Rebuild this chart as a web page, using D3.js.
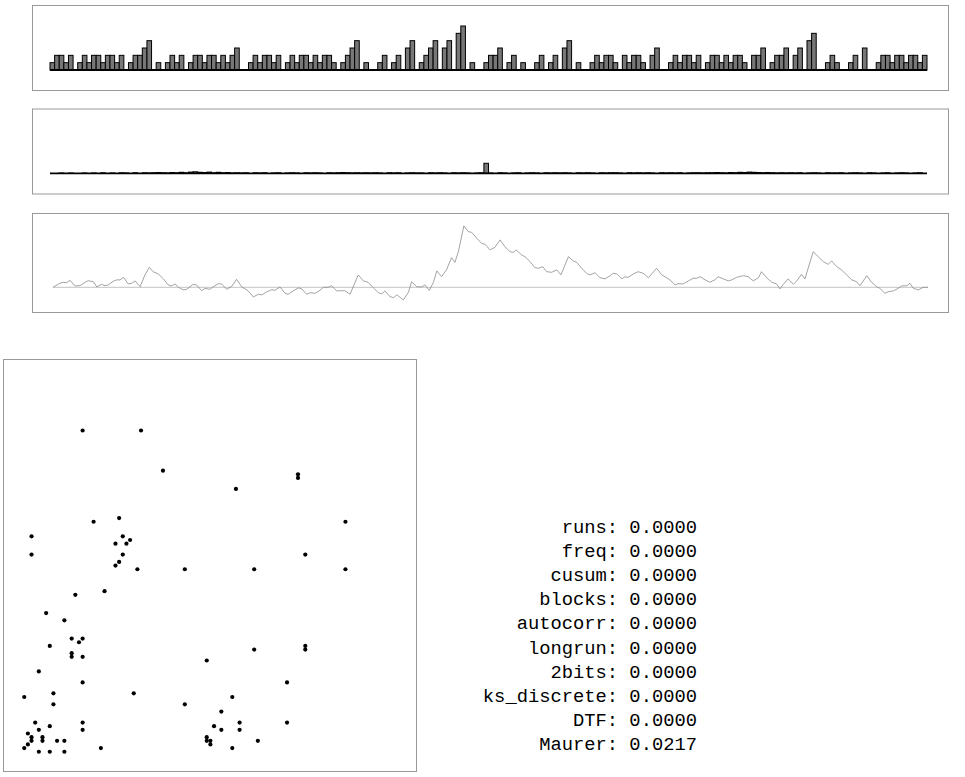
<!DOCTYPE html>
<html>
<head>
<meta charset="utf-8">
<script src="https://cdn.jsdelivr.net/npm/d3@7"></script>
<style>
  body { margin: 0; background: #fff; }
  svg { display: block; }
</style>
</head>
<body>
<svg width="965" height="777"></svg>
<script>
// run lengths per bit (top strip)
var runLevels = [
  1,2,2,1,2,0,1,2,1,2, 2,1,2,2,1,2,0,1,2,2,
  3,4,0,1,0,1,2,1,2,0, 1,2,2,1,2,2,1,2,1,2,
  3,0,0,1,2,1,2,2,1,2, 0,1,2,1,2,2,1,2,1,2,
  2,1,0,1,2,3,4,0,1,0, 0,1,2,0,1,2,0,3,4,0,
  1,2,3,4,0,3,4,0,5,6, 0,1,0,0,1,2,2,3,0,1,
  2,0,1,0,0,1,2,0,1,2, 0,3,4,0,1,0,0,1,2,1,
  2,2,1,0,2,1,2,2,1,0, 2,3,0,0,1,2,1,2,2,1,
  2,0,1,2,2,1,2,1,2,2, 1,0,2,2,3,0,1,2,2,3,
  0,2,3,0,4,5,0,0,1,2, 1,0,0,1,2,0,3,0,0,1,
  2,2,1,2,2,1,2,2,1,2
];

// spectrum strip (middle)
var spectrum = [
  0,0,0.03,0,0.03,0,0,0.03,0,0.03, 0,0.05,0,0.03,0,0.05,0.03,0,0.05,0,
  0.05,0.03,0.05,0.08,0.05,0.03,0.08,0.05,0.1,0.05, 0.12,0.15,0.1,0.08,0.12,0.05,0.1,0.05,0.08,0.03,
  0.05,0.03,0.05,0,0.05,0.03,0.05,0,0.03,0.05, 0,0.03,0.05,0.03,0,0.05,0.03,0.05,0.03,0,
  0.05,0.03,0.05,0.08,0.05,0.03,0.05,0.03,0.05,0.03, 0.05,0.03,0,0.05,0.03,0.05,0,0.03,0.05,0.03,
  0.03,0,0.05,0.03,0.05,0.03,0,0.05,0.03,0.05, 0.03,0,0.03,0.05,1,0.03,0,0.05,0.03,0,
  0.03,0.05,0,0.03,0.05,0.03,0,0.05,0.03,0.05, 0.03,0.05,0.03,0,0.05,0.03,0.05,0.03,0,0.05,
  0.03,0.05,0.05,0.03,0,0.05,0.03,0.05,0.03,0.05, 0.03,0,0.05,0.03,0.05,0.03,0.05,0,0.03,0.05,
  0.05,0.03,0.05,0.05,0.08,0.05,0.03,0.08,0.05,0.1, 0.08,0.12,0.1,0.08,0.05,0.08,0.05,0.03,0.05,0.03,
  0.05,0.03,0.05,0,0.03,0.05,0.03,0,0.05,0.03, 0.03,0.05,0,0.03,0.05,0.03,0,0.05,0.03,0,
  0.03,0.05,0,0.03,0.05,0.03,0,0.03,0.05,0
];

// cumulative sum walk (bottom strip): bit index, value
var walkStep = [
  0,2,3,4,5,6.4,7.9,9.4,10.3,11.8,12.8,14.2,15.2,16.2,17.6,18.6,19.6,20.6,22,23,
  24,25.5,26.9,28.2,29.3,30.8,32.3,33.7,34.7,35.7,36.7,38.1,39.1,41,42,43.5,44.5,45.9,46.9,48.4,
  49.3,50.8,52.3,53.7,55.2,57.1,58.6,60.1,61.1,62.5,64,65,66.4,67.9,68.8,70.3,71.8,72.8,74.2,75.2,
  76.7,78.1,79.1,80.5,81.5,83,84.5,85.4,86.9,89.3,90.8,92.2,93.7,95.2,96.2,97.1,98.6,99.6,100.6,102.5,
  104,104.9,106.4,107.9,108.8,110.1,111.3,112.3,113.7,115.2,116.6,117.6,118.6,120.2,121.5,122.5,124,125.4,126.4,127.9,
  129.3,130.8,132.2,133.7,134.7,135.5,137.1,138.1,139.6,141,142,143.3,144.4,145.9,147.4,148.6,150.8,152.2,153.2,154.7,
  156.1,157.1,158.6,160,161.5,163,163.9,164.9,166.4,167.3,168.3,169.8,171.2,172.7,174.2,176.6,178.1,179.5,180.5,182,
  182.9,184.4,185.9,187.3,188.3,189.3,190.8,192.2,193.7,194.6,196.1,197.6,198.6,200,202,203.4,204.9,206.4,207.3,208.8,
  210.3,211.7,212.7,213.7,215.1,216.6,217.6,219,220,222.4,223.9,225.4,226.8,227.8,229.3,230.7,232.2,233.7,235.1,236.1,
  238.1,239.5,241,241.9,243.4,244.4,245.9,247.3,248.3,249.8,250.7,251.7,253.2,254.6,256
];
var walkValue = [
  0,2,2.5,2.3,3.5,0.7,0.8,2.5,3.3,2.8,0.2,1.5,0.8,1.2,3,3.7,3.7,5,1.7,2,
  3.2,0.3,6.2,10,7.8,6.7,4.2,1.2,0.7,1.7,0,-1.3,-1,1.5,1.2,-1.7,-0.5,-1,0.3,1.8,
  1.7,-1,0.5,4,0.3,-1.8,-4.8,-3.5,-3.8,-2.3,-1.2,-1.5,0.2,-3,-3.5,-1.8,-0.3,-0.8,-3.5,-2.7,
  -3,-1.5,0,0,0.8,-1.8,-1.7,-1.7,-3.5,6.2,3.2,2.5,-0.2,-2.7,-3.3,-1.8,-4.7,-5.2,-3.8,-6.3,
  -2.5,2.8,0.3,0.2,1.2,-1.5,2.5,8.2,5.3,9,14.8,12.5,17.8,30.7,27.8,27.5,24.5,22,21.5,18.7,
  20,23.7,20.3,17.8,17.5,18.7,16.2,15.3,12.8,9.8,9.5,10.3,7.8,7.5,8.7,6.2,15.3,13.2,12.5,9.5,
  7,6.2,7.3,4.8,4.2,5.8,7,6.8,4.2,5.2,5,6.7,7.8,7,4.8,9.5,6.2,4.8,3.7,1.2,
  1.8,1.7,3.2,4.5,4.5,5.3,3.7,2.5,3.8,5.3,4.2,3.2,3.7,5,5.8,5.3,3.2,4.8,7.8,4.8,
  2.5,1.7,-0.8,1.5,4.2,1.5,3.2,6.5,4.2,17.8,15.3,12.8,11.5,13.2,10.3,8.7,6.2,3.7,2.8,0.8,
  5.8,2.5,0.3,-0.5,-3,-2.2,-1.8,-0.5,0.7,0.8,2,-0.5,-1.3,0,0
];

// consecutive pair scatter
var pairX = [
  22,38,44,81,81,64,25,32,94,8,33,35,31,34,8,33,32,31,37,50,
  69,94,83,20,28,12,17,19,22,21,13,19,19,22,69,83,83,56,10,22,
  78,6,14,14,36,50,63,60,9,22,13,10,22,65,58,60,65,78,7,8,
  11,11,8,15,17,7,6,10,13,17,27,56,56,57,57,63,70
];
var pairY = [
  93,93,82,81,80,77,68,69,68,64,64,63,62,62,59,59,57,56,55,55,
  55,55,59,48,49,43,41,36,36,35,34,32,31,31,33,34,33,30,27,24,
  24,20,21,18,21,18,20,16,13,13,12,11,11,13,12,11,11,13,10,9,
  9,8,8,8,8,7,6,5,5,5,6,9,8,8,7,6,8
];

var testNames = ["runs", "freq", "cusum", "blocks", "autocorr", "longrun", "2bits", "ks_discrete", "DTF", "Maurer"];
var testPValues = [0.0000, 0.0000, 0.0000, 0.0000, 0.0000, 0.0000, 0.0000, 0.0000, 0.0000, 0.0217];

var svg = d3.select("svg");

function frame(x, y, w, h) {
  svg.append("rect")
    .attr("x", x).attr("y", y)
    .attr("width", w).attr("height", h)
    .attr("fill", "none")
    .attr("stroke", "#999")
    .attr("stroke-width", 1);
}

function barStrip(data, yScale) {
  var x = d3.scaleBand()
    .domain(d3.range(data.length))
    .range([50, 927]);

  var g = svg.append("g");
  g.selectAll("rect")
    .data(data)
    .enter().append("rect")
      .attr("x", function(d, i) { return x(i); })
      .attr("y", function(d) { return yScale(d); })
      .attr("width", x.bandwidth())
      .attr("height", function(d) { return yScale(0) - yScale(d); })
      .attr("fill", "#777")
      .attr("stroke", "#000")
      .attr("stroke-width", 1);

  g.append("line")
    .attr("x1", x.range()[0]).attr("x2", x.range()[1])
    .attr("y1", yScale(0)).attr("y2", yScale(0))
    .attr("stroke", "#000")
    .attr("stroke-width", 1.8);
}

// Top strip: run lengths
frame(32.5, 5.5, 916, 85);
barStrip(runLevels, d3.scaleLinear().domain([0, 6]).range([70, 26]));

// Middle strip: spectrum
frame(32.5, 109, 916, 85);
barStrip(spectrum, d3.scaleLinear().domain([0, 1]).range([173.3, 163.3]));

// Bottom strip: cumulative walk
frame(32.5, 213.5, 916, 99);
var xWalk = d3.scaleLinear().domain([0, 256]).range([53, 928]);
var yWalk = d3.scaleLinear().domain([-10, 30]).range([307.3, 227.3]);

svg.append("line")
  .attr("x1", xWalk(0)).attr("x2", xWalk(256))
  .attr("y1", yWalk(0)).attr("y2", yWalk(0))
  .attr("stroke", "#c4c4c4")
  .attr("stroke-width", 1);

svg.append("path")
  .datum(walkStep.map(function(t, i) { return [t, walkValue[i]]; }))
  .attr("fill", "none")
  .attr("stroke", "#8c8c8c")
  .attr("stroke-width", 0.8)
  .attr("d", d3.line()
    .x(function(d) { return xWalk(d[0]); })
    .y(function(d) { return yWalk(d[1]); }));

// Scatter of consecutive values
frame(3.5, 359.5, 413, 412);
var xPair = d3.scaleLinear().domain([0, 113]).range([2.33, 414.8]);
var yPair = d3.scaleLinear().domain([0, 113]).range([770, 357.5]);

svg.append("g")
  .selectAll("circle")
  .data(pairX)
  .enter().append("circle")
    .attr("cx", function(d) { return xPair(d); })
    .attr("cy", function(d, i) { return yPair(pairY[i]); })
    .attr("r", 2.1)
    .attr("fill", "#000");

// Test results
var rowY = d3.scaleLinear().domain([0, testNames.length - 1]).range([533, 750]);

svg.append("g")
  .selectAll("text")
  .data(testNames)
  .enter().append("text")
    .attr("x", 697)
    .attr("y", function(d, i) { return rowY(i); })
    .attr("text-anchor", "end")
    .attr("font-family", "'Liberation Mono', 'DejaVu Sans Mono', monospace")
    .attr("font-size", "18.8px")
    .attr("fill", "#000")
    .style("white-space", "pre")
    .text(function(d, i) { return d + ": " + testPValues[i].toFixed(4); });
</script>
</body>
</html>
